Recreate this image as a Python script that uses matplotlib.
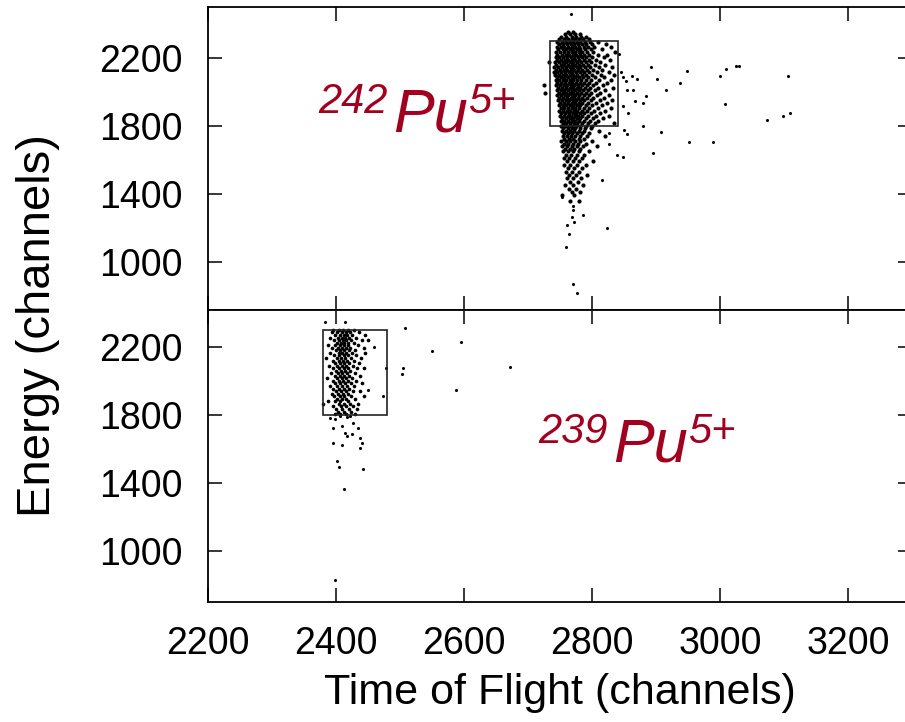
import matplotlib.pyplot as plt
from matplotlib.patches import Rectangle

plt.rcParams["font.family"] = ["Liberation Sans", "DejaVu Sans"]

# 242Pu5+ : dense cluster, one row of time-of-flight values per energy
e242_rows = [2350, 2340, 2325, 2310, 2295, 2280, 2265, 2250, 2235, 2220,
             2205, 2190, 2175, 2160, 2145, 2130, 2115, 2100, 2085, 2070,
             2055, 2040, 2025, 2010, 1995, 1980, 1965, 1950, 1935, 1920,
             1905, 1890, 1875, 1860, 1845, 1830, 1815, 1800, 1785, 1770,
             1755, 1740, 1725, 1710, 1695, 1680, 1665, 1650, 1630, 1610,
             1590, 1570, 1550, 1530, 1510, 1490, 1470, 1450, 1430, 1410,
             1390, 1360]
tof242_rows = [
    [2763, 2770],
    [2758, 2766, 2774, 2781],
    [2752, 2760, 2768, 2775, 2783, 2790],
    [2749, 2756, 2762, 2769, 2774, 2779, 2786, 2795],
    [2746, 2753, 2759, 2765, 2771, 2777, 2782, 2789, 2797, 2810],
    [2748, 2755, 2761, 2767, 2772, 2778, 2784, 2791, 2800, 2822],
    [2745, 2751, 2757, 2763, 2769, 2774, 2780, 2787, 2794, 2803, 2830],
    [2747, 2754, 2760, 2765, 2771, 2776, 2782, 2789, 2798, 2815],
    [2744, 2750, 2756, 2762, 2768, 2773, 2779, 2785, 2792, 2801, 2836],
    [2746, 2753, 2759, 2764, 2770, 2775, 2781, 2788, 2796, 2809, 2824],
    [2743, 2749, 2755, 2761, 2767, 2772, 2778, 2784, 2791, 2800, 2818],
    [2745, 2752, 2758, 2763, 2769, 2774, 2780, 2787, 2795, 2806, 2828],
    [2733, 2742, 2748, 2754, 2760, 2766, 2771, 2777, 2783, 2790, 2799, 2813],
    [2744, 2751, 2757, 2762, 2768, 2773, 2779, 2786, 2793, 2804, 2821],
    [2741, 2747, 2753, 2759, 2765, 2770, 2776, 2782, 2789, 2797, 2811, 2832],
    [2743, 2750, 2756, 2761, 2767, 2772, 2778, 2785, 2792, 2802, 2816],
    [2740, 2746, 2752, 2758, 2764, 2769, 2775, 2781, 2788, 2796, 2808, 2826],
    [2742, 2749, 2755, 2760, 2766, 2771, 2777, 2784, 2791, 2800, 2814, 2835],
    [2745, 2751, 2757, 2763, 2768, 2774, 2780, 2786, 2794, 2805, 2819],
    [2743, 2748, 2754, 2759, 2765, 2770, 2776, 2783, 2790, 2798, 2811, 2829],
    [2746, 2752, 2758, 2764, 2769, 2775, 2781, 2787, 2795, 2807, 2823],
    [2725, 2744, 2750, 2756, 2761, 2767, 2772, 2778, 2785, 2792, 2801, 2817],
    [2747, 2753, 2759, 2765, 2770, 2776, 2782, 2789, 2797, 2810, 2833],
    [2745, 2751, 2757, 2762, 2768, 2773, 2779, 2786, 2794, 2804, 2820],
    [2727, 2748, 2754, 2760, 2766, 2771, 2777, 2783, 2790, 2799, 2813],
    [2746, 2752, 2758, 2763, 2769, 2774, 2780, 2787, 2796, 2808, 2827],
    [2749, 2755, 2761, 2767, 2772, 2778, 2784, 2792, 2802, 2818],
    [2747, 2753, 2759, 2764, 2770, 2775, 2781, 2788, 2798, 2812, 2831],
    [2750, 2756, 2762, 2768, 2773, 2779, 2785, 2793, 2806, 2824],
    [2748, 2754, 2760, 2765, 2771, 2776, 2782, 2790, 2800, 2815],
    [2751, 2757, 2763, 2769, 2774, 2780, 2787, 2796, 2809, 2829],
    [2749, 2755, 2761, 2766, 2772, 2777, 2784, 2792, 2803, 2820],
    [2752, 2758, 2764, 2770, 2775, 2781, 2788, 2798, 2812],
    [2750, 2756, 2762, 2767, 2773, 2778, 2785, 2794, 2806, 2826],
    [2753, 2759, 2765, 2771, 2776, 2782, 2790, 2801, 2817],
    [2751, 2757, 2763, 2768, 2774, 2780, 2787, 2797, 2809],
    [2754, 2760, 2766, 2772, 2777, 2784, 2793, 2804, 2834],
    [2752, 2758, 2764, 2769, 2775, 2782, 2790, 2800],
    [2755, 2762, 2768, 2774, 2781, 2789, 2798],
    [2753, 2760, 2766, 2772, 2779, 2787, 2811],
    [2756, 2763, 2769, 2776, 2784, 2795],
    [2754, 2761, 2767, 2774, 2782, 2792, 2820],
    [2757, 2764, 2771, 2779, 2788],
    [2752, 2759, 2766, 2773, 2781, 2800],
    [2756, 2763, 2770, 2778, 2790],
    [2753, 2761, 2768, 2776, 2786, 2808],
    [2758, 2765, 2772, 2781],
    [2755, 2763, 2771, 2779, 2795],
    [2759, 2767, 2776, 2788],
    [2756, 2764, 2773, 2784],
    [2761, 2770, 2780, 2801],
    [2757, 2766, 2776, 2790],
    [2762, 2772, 2785],
    [2759, 2768, 2779],
    [2764, 2775, 2792],
    [2761, 2771, 2783],
    [2766, 2778],
    [2758, 2770, 2786],
    [2764, 2775],
    [2769, 2781],
    [2753, 2772],
    [2766, 2779],
]
# 242Pu5+ : isolated events
tof242_out = [2767, 2771, 2770, 2786, 2769, 2772, 2761, 2823, 2764, 2759,
              2770, 2776, 2816, 2753, 2892, 2901, 2916, 2937, 2948, 3000,
              3009, 3025, 3030, 3008, 3106, 3073, 3098, 3109, 2952, 2989,
              2908, 2880, 2895, 2884, 2880, 2867, 2864, 2855, 2856, 2849,
              2850, 2855, 2839, 2849, 2826, 2826, 2862, 2870, 2845, 2848,
              2853, 2842]
e242_out = [2460, 1330, 1306, 1277, 1265, 1236, 1218, 1200, 1165, 1089,
            871, 818, 1483, 1383, 2147, 2077, 2012, 2053, 2124, 2094,
            2135, 2153, 2153, 1929, 2094, 1835, 1859, 1876, 1706, 1706,
            1765, 1800, 1641, 1977, 1935, 1947, 2012, 2012, 1876, 1918,
            1777, 1753, 1630, 1618, 1694, 1759, 2094, 2077, 2118, 2088,
            2065, 2223]

# 239Pu5+ : cluster rows
e239_rows = [2300, 2285, 2270, 2255, 2240, 2225, 2210, 2195, 2180, 2165,
             2150, 2135, 2120, 2105, 2090, 2075, 2060, 2045, 2030, 2015,
             2000, 1985, 1970, 1955, 1940, 1925, 1910, 1895, 1880, 1865,
             1850, 1835, 1820, 1805]
tof239_rows = [
    [2396, 2405, 2411, 2418, 2428],
    [2393, 2402, 2409, 2415, 2422, 2436],
    [2399, 2406, 2412, 2417, 2425, 2445],
    [2390, 2403, 2410, 2414, 2420, 2431],
    [2397, 2405, 2411, 2416, 2423, 2440, 2450],
    [2401, 2408, 2413, 2419, 2428],
    [2388, 2398, 2406, 2412, 2418, 2434],
    [2394, 2403, 2409, 2415, 2422, 2443],
    [2400, 2407, 2413, 2420, 2429],
    [2391, 2404, 2410, 2416, 2425, 2446],
    [2397, 2405, 2412, 2419, 2432],
    [2385, 2401, 2408, 2414, 2423, 2439],
    [2395, 2404, 2411, 2417, 2428],
    [2399, 2407, 2413, 2421, 2436],
    [2389, 2402, 2409, 2416, 2426],
    [2396, 2405, 2412, 2419, 2433, 2444],
    [2400, 2408, 2414, 2422],
    [2392, 2403, 2410, 2417, 2429],
    [2398, 2406, 2413, 2420, 2438],
    [2386, 2401, 2409, 2416, 2425],
    [2395, 2404, 2411, 2419, 2432],
    [2399, 2407, 2414, 2423, 2441],
    [2390, 2402, 2410, 2417, 2428],
    [2396, 2405, 2412, 2421],
    [2400, 2408, 2415, 2426, 2437],
    [2393, 2403, 2411, 2419],
    [2397, 2406, 2413, 2424, 2444],
    [2401, 2409, 2416, 2430],
    [2387, 2399, 2407, 2418],
    [2380, 2404, 2412, 2422, 2435],
    [2396, 2408, 2415, 2427],
    [2400, 2410, 2420, 2433],
    [2403, 2412, 2424],
    [2398, 2407, 2416, 2429],
]
tof239_out = [2383, 2414, 2390, 2398, 2406, 2417, 2422, 2395, 2409, 2427,
              2435, 2414, 2425, 2417, 2438, 2396, 2409, 2440, 2438, 2402,
              2404, 2442, 2413, 2398, 2508, 2550, 2595, 2504, 2503, 2587,
              2672, 2478, 2473, 2459, 2450]
e239_out = [2348, 2348, 1781, 1775, 1794, 1786, 1794, 1722, 1736, 1751,
            1722, 1692, 1688, 1677, 1663, 1637, 1624, 1634, 1604, 1530,
            1496, 1483, 1367, 830, 2310, 2176, 2227, 2075, 2039, 1945,
            2082, 2075, 1912, 2202, 1947]

x_ticks = [2200, 2400, 2600, 2800, 3000, 3200]
y_ticks = [1000, 1400, 1800, 2200]
red = "#a1001f"

W, H = 905, 722
fig = plt.figure(figsize=(W / 100, H / 100), dpi=100)
ax1 = fig.add_axes([208 / W, 1 - 310 / H, 704 / W, 303 / H])
ax2 = fig.add_axes([208 / W, 1 - 602 / H, 704 / W, 292 / H])


def flatten(rows_e, rows_t):
    xs, ys = [], []
    for e, ts in zip(rows_e, rows_t):
        xs += ts
        ys += [e] * len(ts)
    return xs, ys


x242, y242 = flatten(e242_rows, tof242_rows)
x239, y239 = flatten(e239_rows, tof239_rows)

# dense clusters drawn with slightly bigger dots so they merge into a blob
ax1.scatter(x242, y242, s=9, c="black", lw=0)
ax1.scatter(tof242_out, e242_out, s=5, c="black", lw=0)
ax2.scatter(x239, y239, s=7, c="black", lw=0)
ax2.scatter(tof239_out, e239_out, s=5, c="black", lw=0)

ax1.add_patch(Rectangle((2735, 1800), 105, 498, fill=False, lw=1.2, ec="#222222"))
ax2.add_patch(Rectangle((2380, 1800), 100, 500, fill=False, lw=1.2, ec="#222222"))

ax1.set_ylim(715, 2500)
ax2.set_ylim(700, 2417)
for ax in (ax1, ax2):
    ax.set_xlim(2200, 3300)
    ax.set_xticks(x_ticks)
    ax.set_yticks(y_ticks)
    ax.tick_params(direction="in", top=True, right=True, length=10, width=1.1,
                   labelsize=27)
    ax.tick_params(axis="y", pad=18)
    ax.tick_params(axis="x", pad=17)
    for sp in ax.spines.values():
        sp.set_linewidth(1.3)
ax1.tick_params(labelbottom=False)

fig.text(560 / W, 1 - 693 / H, "Time of Flight (channels)", ha="center",
         va="center", fontsize=31)
fig.text(38 / W, 1 - 326 / H, "Energy (channels)", ha="center", va="center",
         rotation=90, fontsize=34)


def label(x0, base, mass):
    # isotope label: leading mass number, element, charge state
    fig.text(x0 / W, 1 - (base - 19) / H, mass, fontsize=30, color=red,
             style="italic", va="baseline")
    fig.text((x0 + 75) / W, 1 - base / H, "Pu", fontsize=44, color=red,
             style="italic", va="baseline")
    fig.text((x0 + 150) / W, 1 - (base - 19) / H, "5+", fontsize=30,
             color=red, style="italic", va="baseline")


label(318, 132, "242")
label(538, 462, "239")

fig.savefig("out.png", dpi=100)
